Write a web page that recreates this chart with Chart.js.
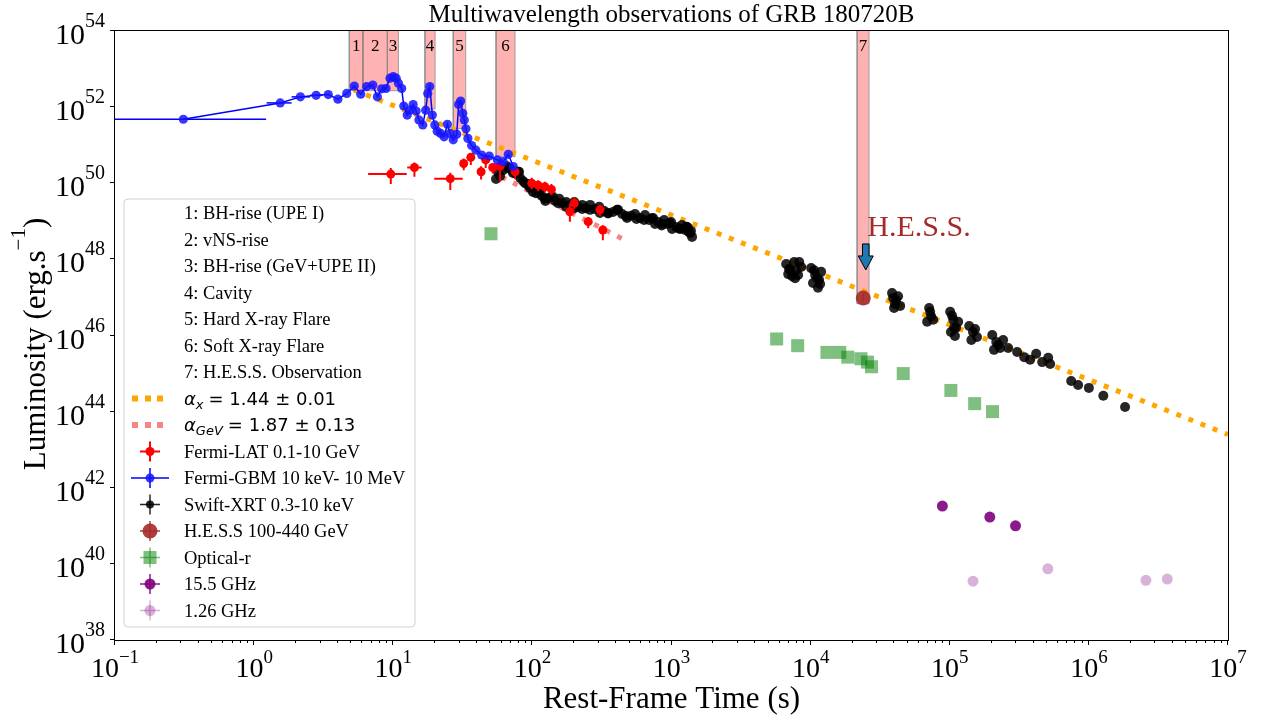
<!DOCTYPE html>
<html><head><meta charset="utf-8">
<script src="https://cdn.jsdelivr.net/npm/chart.js@4.4.0/dist/chart.umd.min.js"></script>
<style>html,body{margin:0;padding:0;background:#fff;overflow:hidden}</style>
</head><body>
<canvas id="c" width="1263" height="718" style="width:1263px;height:718px;display:block"></canvas>
<script>
// ---------------- DATA ----------------
const xMin = 0.1, xMax = 1e7, yMin = 1e38, yMax = 1e54;
const xTickExps = [-1, 0, 1, 2, 3, 4, 5, 6, 7];
const yTickExps = [38, 40, 42, 44, 46, 48, 50, 52, 54];

// Fermi-GBM 10 keV - 10 MeV
const gbmTime = [0.31, 1.54, 2.15, 2.79, 3.41, 4.0, 4.63, 5.25, 5.84, 6.45, 7.13, 7.69, 8.26, 8.87, 9.48, 10.0, 10.5, 10.9, 11.5, 11.9, 12.6, 13.2, 13.9, 14.6, 15.3, 16.3, 17.1, 17.7, 18.3, 19.1, 19.9, 20.7, 21.9, 23.2, 24.5, 25.6, 27.0, 28.6, 29.5, 30.5, 31.6, 32.4, 33.3, 34.4, 36.6, 39.3, 43.2, 49.0, 56.0, 61.7, 67.1, 72.9];
const gbmLum = [4.8e51, 1.29e52, 1.86e52, 2.04e52, 2.14e52, 1.62e52, 2.29e52, 3.59e52, 2.19e52, 3.47e52, 3.8e52, 1.86e52, 3.02e52, 3.09e52, 5.75e52, 6.3e52, 5.75e52, 4.27e52, 3.09e52, 1.07e52, 6.2e51, 8.3e51, 1.17e52, 7.9e51, 4.6e51, 3.4e51, 8.3e51, 2.29e52, 3.47e52, 6.2e51, 3.4e51, 2.34e51, 2.04e51, 1.66e51, 3.55e51, 2.04e51, 1.38e51, 1.95e51, 1.17e52, 1.45e52, 6.9e51, 4.6e51, 2.69e51, 1.51e51, 9.8e50, 7.4e50, 5.5e50, 5.2e50, 4.1e50, 3.7e50, 5.75e50, 2.75e50];
const gbmTimeLo = [0.05, 1.23, 1.86, 2.52];
const gbmTimeHi = [1.22, 1.86, 2.52, 3.1];

// Fermi-LAT 0.1-10 GeV
const latTime = [9.6, 14.2, 25.7, 32.1, 36.1, 42.8, 46.2, 51.9, 58.6, 75.1, 99, 110, 123, 137, 186, 200, 252, 306, 321];
const latLum = [1.74e50, 2.6e50, 1.32e50, 3.3e50, 4.8e50, 2.0e50, 4.1e50, 2.6e50, 2.8e50, 2.0e50, 1.0e50, 8.9e49, 8.1e49, 6.9e49, 1.78e49, 3.0e49, 9.8e48, 2.0e49, 5.9e48];
const latTimeLo = [6.6, 12.6, 19.7, 31.0, 35, 41.5, 45, 50, 56, 72, 95, 105, 118, 131, 180, 193, 244, 296, 310];
const latTimeHi = [12.5, 16.0, 31.6, 33.3, 37.3, 44.2, 47.5, 54, 61, 78, 103, 115, 128, 143, 193, 207, 260, 316, 332];
const latLumLo = [9.5e49, 1.48e50, 6.6e49, 2.2e50, 3.0e50, 1.26e50, 2.5e50, 1.8e50, 1.1e50, 1.3e50, 7.0e49, 6.2e49, 5.8e49, 4.9e49, 9.8e48, 2.1e49, 6.6e48, 1.4e49, 3.2e48];
const latLumHi = [2.5e50, 3.5e50, 1.9e50, 4.5e50, 6.1e50, 2.8e50, 5.0e50, 3.3e50, 3.7e50, 2.8e50, 1.4e50, 1.2e50, 1.1e50, 9.5e49, 2.95e49, 4.2e49, 1.3e49, 2.7e49, 7.9e48];

// Swift-XRT 0.3-10 keV
const xrtTime = [54.8, 56.6, 58.6, 61.5, 65.8, 66.8, 71.4, 72.6, 76.3, 78.9, 80.2, 81.5, 85.7, 88.5, 93, 93.1, 96.2, 101, 101, 106, 112, 112, 117, 123, 124, 130, 136, 140, 146, 153, 156, 164, 175, 175, 187, 200, 200, 213, 228, 228, 243, 260, 260, 282, 302, 306, 327, 350, 350, 380, 406, 413, 442, 471, 479, 513, 547, 560, 594, 635, 645, 690, 720, 738, 762, 800, 850, 855, 885, 929, 970, 993, 1010, 1080, 1130, 1153, 1190, 1253, 1280, 1294, 1315, 1330, 1360, 1380, 1405,
  6670, 6900, 7000, 7130, 7360, 7610, 7740, 7870, 8130, 8280, 8550, 10090, 10400, 10600, 10770, 11140, 11300, 11500, 11700, 11900, 38500, 39200, 39800, 40400, 41100, 42500, 44000, 68800, 71100, 72300, 73500, 76000, 100700, 102000, 104000, 106000, 107600, 109000, 111000, 115000, 138000, 143000, 147000, 152000, 157000, 202000, 208000, 216000, 223000, 230000, 242000, 263000, 305000, 343000, 378000, 418000, 462000, 510000, 527000, 746000, 837000, 1.0e6, 1.27e6, 1.82e6];
const xrtLum = [1.3e50, 2.0e50, 1.55e50, 2.2e50, 2.8e50, 2.5e50, 2.2e50, 1.86e50, 1.75e50, 2.0e50, 2.0e50, 1.4e50, 1.15e50, 1.0e50, 9.0e49, 9.5e49, 7.5e49, 8.5e49, 5.9e49, 5.5e49, 6.5e49, 5.9e49, 4.6e49, 3.9e49, 3.4e49, 4.1e49, 4.3e49, 4.5e49, 3.4e49, 3.0e49, 3.9e49, 3.0e49, 2.4e49, 3.2e49, 2.7e49, 3.2e49, 2.2e49, 2.4e49, 2.1e49, 2.7e49, 2.2e49, 2.7e49, 2.0e49, 2.1e49, 2.4e49, 1.65e49, 1.9e49, 1.6e49, 1.65e49, 1.75e49, 2.0e49, 2.0e49, 1.55e49, 1.38e49, 1.22e49, 1.4e49, 1.55e49, 1.15e49, 1.22e49, 1.08e49, 1.46e49, 1.08e49, 1.2e49, 1.22e49, 8.5e48, 9.6e48, 7.8e48, 8.5e48, 1.08e49, 8.5e48, 9.0e48, 9.6e48, 6.3e48, 7.1e48, 6.5e48, 6.3e48, 8.0e48, 5.9e48, 7.2e48, 7.1e48, 6.7e48, 5.3e48, 4.9e48, 5.6e48, 3.9e48,
  7.6e47, 4.1e47, 5.6e47, 5.3e47, 3.6e47, 8.5e47, 3.2e47, 5.2e47, 3.9e47, 8.5e47, 6.3e47, 5.9e47, 2.4e47, 5.2e47, 3.9e47, 3.2e47, 1.8e47, 2.9e47, 2.25e47, 4.7e47, 1.3e47, 9.7e46, 5.3e46, 6.7e46, 8.5e46, 1.07e47, 6.0e46, 2.3e46, 5.3e46, 4.2e46, 3.2e46, 2.6e46, 4.2e46, 1.23e46, 3.3e46, 2.6e46, 1.6e46, 9.7e45, 1.6e46, 2.3e46, 1.78e46, 7.6e45, 1.23e46, 1.48e46, 9.1e45, 1.03e46, 4.2e45, 6.7e45, 5.6e45, 4.7e45, 7.6e45, 4.7e45, 3.7e45, 2.7e45, 2.3e45, 3.3e45, 2.0e45, 2.6e45, 1.78e45, 6.4e44, 5.0e44, 4.2e44, 2.6e44, 1.32e44];

// H.E.S.S 100-440 GeV
const hessTime = [2.39e4];
const hessLum = [9.7e46];
const hessLumLo = [7.6e46];
const hessLumHi = [1.22e47];

// Optical-r
const optTime = [50.4, 5700, 8070, 13100, 16200, 18500, 23000, 25600, 27400, 46300, 101900, 151000, 203000];
const optLum = [4.7e48, 8.1e45, 5.4e45, 3.6e45, 3.6e45, 2.7e45, 2.45e45, 2.0e45, 1.51e45, 1.0e45, 3.6e44, 1.62e44, 1.0e44];

// Radio
const r155Time = [88500, 194000, 297000];
const r155Lum = [3.3e41, 1.7e41, 1.0e41];
const r126Time = [147000, 507000, 2.57e6, 3.66e6];
const r126Lum = [3.5e39, 7.4e39, 3.7e39, 4.0e39];

// Power-law fits
const xFitTime = [5.22, 1e7];
const xFitLum = [2.82e52, 2.5e43];
const gevFitTime = [60, 480];
const gevFitLum = [1.47e50, 3.0e48];

// Episodes (shaded)
const bandStart = [4.83, 6.07, 9.08, 16.9, 27.0, 54.8, 21600];
const bandEnd = [6.07, 9.08, 10.9, 20.0, 33.2, 75.1, 26300];
const bandBottom = [2.7e52, 2.7e52, 2.7e52, 8.9e51, 2.75e51, 5.0e50, 6.8e46];
const bandLabels = ['1', '2', '3', '4', '5', '6', '7'];

const legendTexts = ['1: BH-rise (UPE I)', '2: vNS-rise', '3: BH-rise (GeV+UPE II)', '4: Cavity', '5: Hard X-ray Flare', '6: Soft X-ray Flare', '7: H.E.S.S. Observation'];
const seriesNames = ['Fermi-LAT 0.1-10 GeV', 'Fermi-GBM 10 keV- 10 MeV', 'Swift-XRT 0.3-10 keV', 'H.E.S.S 100-440 GeV', 'Optical-r', '15.5 GHz', '1.26 GHz'];

// ---------------- CHART ----------------
const SERIF = '"Liberation Serif", "Times New Roman", serif';
const MATH = '"DejaVu Sans", sans-serif';
const pts = (xs, ys) => xs.map((x, i) => ({ x, y: ys[i] }));

const datasets = [];
bandStart.forEach((s, i) => {
  datasets.push({
    label: 'band' + bandLabels[i],
    data: [{ x: s, y: yMax }, { x: s, y: bandBottom[i] }, { x: bandEnd[i], y: bandBottom[i] }, { x: bandEnd[i], y: yMax }],
    showLine: true, fill: 'end', backgroundColor: 'rgba(255,0,0,0.3)', borderColor: 'rgba(140,140,140,0.8)',
    borderWidth: 1, pointRadius: 0, order: 30
  });
});
datasets.push({ label: 'gevfit', data: pts(gevFitTime, gevFitLum), showLine: true, fill: false, borderColor: 'rgba(245,120,120,0.9)', borderWidth: 5, borderDash: [5, 8], pointRadius: 0, order: 21 });
datasets.push({ label: 'xfit', data: pts(xFitTime, xFitLum), showLine: true, fill: false, borderColor: '#ffa500', borderWidth: 5, borderDash: [5, 8], pointRadius: 0, order: 20 });
datasets.push({ label: seriesNames[4], data: pts(optTime, optLum), pointStyle: 'rect', pointRadius: 9.2, backgroundColor: 'rgba(0,128,0,0.5)', borderWidth: 0, order: 15 });
datasets.push({ label: seriesNames[2], data: pts(xrtTime, xrtLum), pointRadius: 5, backgroundColor: 'rgba(0,0,0,0.85)', borderWidth: 0, order: 14 });
datasets.push({ label: seriesNames[0], data: pts(latTime, latLum), pointRadius: 4.5, backgroundColor: 'red', borderWidth: 0, order: 12,
  errorBars: { xlo: latTimeLo, xhi: latTimeHi, ylo: latLumLo, yhi: latLumHi, color: 'red', width: 2 } });
datasets.push({ label: seriesNames[1], data: pts(gbmTime, gbmLum), showLine: true, fill: false, borderColor: 'blue', borderWidth: 1.5,
  pointRadius: 4.6, pointBackgroundColor: 'rgba(20,20,255,0.85)', pointBorderWidth: 0, order: 10,
  errorBars: { xlo: gbmTimeLo, xhi: gbmTimeHi, color: 'blue', width: 1.5 } });
datasets.push({ label: seriesNames[3], data: pts(hessTime, hessLum), pointRadius: 7.5, backgroundColor: 'rgba(165,42,42,0.9)', borderWidth: 0, order: 8,
  errorBars: { ylo: hessLumLo, yhi: hessLumHi, color: 'rgba(165,42,42,0.9)', width: 1.5 } });
datasets.push({ label: seriesNames[5], data: pts(r155Time, r155Lum), pointRadius: 5.5, backgroundColor: 'rgba(128,0,128,0.9)', borderWidth: 0, order: 6 });
datasets.push({ label: seriesNames[6], data: pts(r126Time, r126Lum), pointRadius: 5.5, backgroundColor: 'rgba(128,0,128,0.3)', borderWidth: 0, order: 5 });

const errPlugin = {
  id: 'errbars',
  beforeDatasetDraw(chart, args) {
    const ds = chart.data.datasets[args.index];
    const eb = ds.errorBars; if (!eb) return;
    const { ctx, chartArea: a, scales: { x, y } } = chart;
    ctx.save();
    ctx.beginPath(); ctx.rect(a.left, a.top, a.right - a.left, a.bottom - a.top); ctx.clip();
    ctx.strokeStyle = eb.color; ctx.lineWidth = eb.width;
    ds.data.forEach((p, i) => {
      const px = x.getPixelForValue(p.x), py = y.getPixelForValue(p.y);
      ctx.beginPath();
      if (eb.xlo && eb.xlo[i] != null) { ctx.moveTo(x.getPixelForValue(eb.xlo[i]), py); ctx.lineTo(x.getPixelForValue(eb.xhi[i]), py); }
      if (eb.ylo && eb.ylo[i] != null) { ctx.moveTo(px, y.getPixelForValue(eb.ylo[i])); ctx.lineTo(px, y.getPixelForValue(eb.yhi[i])); }
      ctx.stroke();
    });
    ctx.restore();
  }
};

function expStr(e) { return e < 0 ? '\u2212' + Math.abs(e) : String(e); }

function drawLegend(ctx) {
  const x0 = 124, y0 = 199, w = 291, h = 428, r = 4;
  ctx.save();
  ctx.beginPath();
  ctx.moveTo(x0 + r, y0); ctx.lineTo(x0 + w - r, y0); ctx.arcTo(x0 + w, y0, x0 + w, y0 + r, r);
  ctx.lineTo(x0 + w, y0 + h - r); ctx.arcTo(x0 + w, y0 + h, x0 + w - r, y0 + h, r);
  ctx.lineTo(x0 + r, y0 + h); ctx.arcTo(x0, y0 + h, x0, y0 + h - r, r);
  ctx.lineTo(x0, y0 + r); ctx.arcTo(x0, y0, x0 + r, y0, r); ctx.closePath();
  ctx.fillStyle = 'rgba(255,255,255,0.85)'; ctx.fill();
  ctx.strokeStyle = '#d0d0d0'; ctx.lineWidth = 1; ctx.stroke();

  const rowY = i => 213 + i * 26.5;
  const tx = 184, hx = 150;
  ctx.fillStyle = '#000'; ctx.textAlign = 'left'; ctx.textBaseline = 'alphabetic';
  ctx.font = '18.5px ' + SERIF;
  legendTexts.forEach((t, i) => ctx.fillText(t, tx, rowY(i) + 6));

  const dots = (y, col) => { ctx.fillStyle = col; [132, 145, 157].forEach(dx => ctx.fillRect(dx, y - 3, 6, 6)); };
  dots(rowY(7), '#ffa500'); dots(rowY(8), 'rgba(245,120,120,0.9)');
  const alphaLine = (y, sub, rest) => {
    let x = tx; ctx.fillStyle = '#000';
    ctx.font = 'italic 18px ' + MATH; ctx.fillText('\u03b1', x, y + 6); x += ctx.measureText('\u03b1').width;
    ctx.font = 'italic 13px ' + MATH; ctx.fillText(sub, x, y + 10); x += ctx.measureText(sub).width + 5;
    ctx.font = '18px ' + MATH; ctx.fillText('= ' + rest, x, y + 6);
  };
  alphaLine(rowY(7), 'x', '1.44 \u00b1 0.01');
  alphaLine(rowY(8), 'GeV', '1.87 \u00b1 0.13');

  const cross = (y, col, lw, half, vhalf) => {
    ctx.strokeStyle = col; ctx.lineWidth = lw; ctx.beginPath();
    ctx.moveTo(hx - half, y); ctx.lineTo(hx + half, y); ctx.moveTo(hx, y - vhalf); ctx.lineTo(hx, y + vhalf); ctx.stroke();
  };
  const circ = (y, col, rad) => { ctx.fillStyle = col; ctx.beginPath(); ctx.arc(hx, y, rad, 0, Math.PI * 2); ctx.fill(); };
  let y = rowY(9); cross(y, 'red', 2, 10, 10); circ(y, 'red', 4.5);
  y = rowY(10); cross(y, 'blue', 1.5, 19, 10); circ(y, 'rgba(20,20,255,0.85)', 4.5);
  y = rowY(11); cross(y, 'rgba(0,0,0,0.85)', 1.5, 10, 10); circ(y, 'rgba(0,0,0,0.85)', 4);
  y = rowY(12); cross(y, 'rgba(165,42,42,0.9)', 1.5, 10, 10); circ(y, 'rgba(165,42,42,0.9)', 7.5);
  y = rowY(13); cross(y, 'rgba(0,128,0,0.5)', 1.5, 10, 10); ctx.fillStyle = 'rgba(0,128,0,0.5)'; ctx.fillRect(hx - 6.5, y - 6.5, 13, 13);
  y = rowY(14); cross(y, 'rgba(128,0,128,0.9)', 1.5, 10, 10); circ(y, 'rgba(128,0,128,0.9)', 5.5);
  y = rowY(15); cross(y, 'rgba(128,0,128,0.3)', 1.5, 10, 10); circ(y, 'rgba(128,0,128,0.3)', 5.5);
  ctx.fillStyle = '#000'; ctx.font = '18.5px ' + SERIF;
  seriesNames.forEach((t, i) => ctx.fillText(t, tx, rowY(9 + i) + 6));
  ctx.restore();
}

const decorPlugin = {
  id: 'decor',
  beforeDraw(chart) {
    const ctx = chart.ctx; ctx.save(); ctx.fillStyle = '#fff'; ctx.fillRect(0, 0, chart.width, chart.height); ctx.restore();
  },
  afterDraw(chart) {
    const { ctx, chartArea: a, scales: { x, y } } = chart;
    ctx.save();
    ctx.fillStyle = '#000'; ctx.font = '17px ' + SERIF; ctx.textAlign = 'center'; ctx.textBaseline = 'middle';
    bandLabels.forEach((l, i) => {
      const cx = (x.getPixelForValue(bandStart[i]) + x.getPixelForValue(bandEnd[i])) / 2;
      ctx.fillText(l, cx, a.top + 16);
    });
    const hx = x.getPixelForValue(hessTime[0]), hy = y.getPixelForValue(hessLum[0]);
    ctx.fillStyle = '#a52a2a'; ctx.font = '30px ' + SERIF; ctx.textAlign = 'left'; ctx.textBaseline = 'alphabetic';
    ctx.fillText('H.E.S.S.', hx + 4, hy - 62);
    const ax = hx + 2.5;
    ctx.beginPath();
    ctx.moveTo(ax - 3.3, hy - 54); ctx.lineTo(ax + 3.3, hy - 54); ctx.lineTo(ax + 3.3, hy - 42); ctx.lineTo(ax + 7.5, hy - 42);
    ctx.lineTo(ax, hy - 28); ctx.lineTo(ax - 7.5, hy - 42); ctx.lineTo(ax - 3.3, hy - 42); ctx.closePath();
    ctx.fillStyle = '#1f77b4'; ctx.fill(); ctx.strokeStyle = '#000'; ctx.lineWidth = 1; ctx.stroke();

    drawLegend(ctx);

    ctx.strokeStyle = '#000'; ctx.lineWidth = 1;
    ctx.strokeRect(Math.round(a.left) - 0.5, Math.round(a.top) - 0.5, Math.round(a.right - a.left) + 1, Math.round(a.bottom - a.top) + 1);
    ctx.beginPath();
    xTickExps.forEach(e => {
      const px = Math.round(x.getPixelForValue(Math.pow(10, e))) - 0.5;
      ctx.moveTo(px, a.bottom); ctx.lineTo(px, a.bottom + 5);
      if (e < 7) for (let m = 2; m <= 9; m++) {
        const mx = Math.round(x.getPixelForValue(m * Math.pow(10, e))) - 0.5;
        ctx.moveTo(mx, a.bottom); ctx.lineTo(mx, a.bottom + 3);
      }
    });
    yTickExps.forEach(e => {
      const py = Math.round(y.getPixelForValue(Math.pow(10, e))) - 0.5;
      ctx.moveTo(a.left, py); ctx.lineTo(a.left - 5, py);
    });
    ctx.stroke();
    ctx.fillStyle = '#000'; ctx.textBaseline = 'alphabetic'; ctx.textAlign = 'left';
    const big = '28px ' + SERIF, small = '19px ' + SERIF;
    xTickExps.forEach(e => {
      const px = x.getPixelForValue(Math.pow(10, e));
      ctx.font = big; const w1 = ctx.measureText('10').width;
      ctx.font = small; const es = expStr(e); const w2 = ctx.measureText(es).width;
      const sx = px - (w1 + w2) / 2;
      ctx.font = big; ctx.fillText('10', sx, a.bottom + 37);
      ctx.font = small; ctx.fillText(es, sx + w1, a.bottom + 23);
    });
    const bigY = '30px ' + SERIF, smallY = '20px ' + SERIF;
    yTickExps.forEach(e => {
      const py = y.getPixelForValue(Math.pow(10, e));
      ctx.font = smallY; const es = expStr(e); const w2 = ctx.measureText(es).width;
      ctx.font = bigY; const w1 = ctx.measureText('10').width;
      const ex = a.left - 10;
      ctx.font = bigY; ctx.fillText('10', ex - w2 - w1, py + 13);
      ctx.font = smallY; ctx.fillText(es, ex - w2, py - 4);
    });
    ctx.font = '31px ' + SERIF; ctx.textAlign = 'center';
    ctx.fillText('Rest-Frame Time (s)', (a.left + a.right) / 2, 708);
    ctx.save();
    ctx.translate(45, 344); ctx.rotate(-Math.PI / 2);
    const p1 = 'Luminosity (erg.s', p2 = '\u22121', p3 = ')';
    ctx.font = '31px ' + SERIF; const w1 = ctx.measureText(p1).width, w3 = ctx.measureText(p3).width;
    ctx.font = '21px ' + SERIF; const w2 = ctx.measureText(p2).width;
    let sx = -(w1 + w2 + w3) / 2; ctx.textAlign = 'left';
    ctx.font = '31px ' + SERIF; ctx.fillText(p1, sx, 0);
    ctx.font = '21px ' + SERIF; ctx.fillText(p2, sx + w1, -20);
    ctx.font = '31px ' + SERIF; ctx.fillText(p3, sx + w1 + w2, 0);
    ctx.restore();
    ctx.font = '25px ' + SERIF; ctx.textAlign = 'center';
    ctx.fillText('Multiwavelength observations of GRB 180720B', (a.left + a.right) / 2, 22);
    ctx.restore();
  }
};

new Chart(document.getElementById('c'), {
  type: 'scatter',
  data: { datasets },
  options: {
    responsive: false, animation: false, devicePixelRatio: 1,
    layout: { padding: { top: 31, right: 35, left: 0, bottom: 0 } },
    plugins: { legend: { display: false }, tooltip: { enabled: false }, title: { display: false } },
    scales: {
      x: { type: 'logarithmic', min: xMin, max: xMax, grid: { display: false }, border: { display: false }, ticks: { display: false },
        afterFit(s) { s.height = 78; } },
      y: { type: 'logarithmic', min: yMin, max: yMax, grid: { display: false }, border: { display: false }, ticks: { display: false },
        afterFit(s) { s.width = 115; } }
    }
  },
  plugins: [errPlugin, decorPlugin]
});
</script>
</body></html>
